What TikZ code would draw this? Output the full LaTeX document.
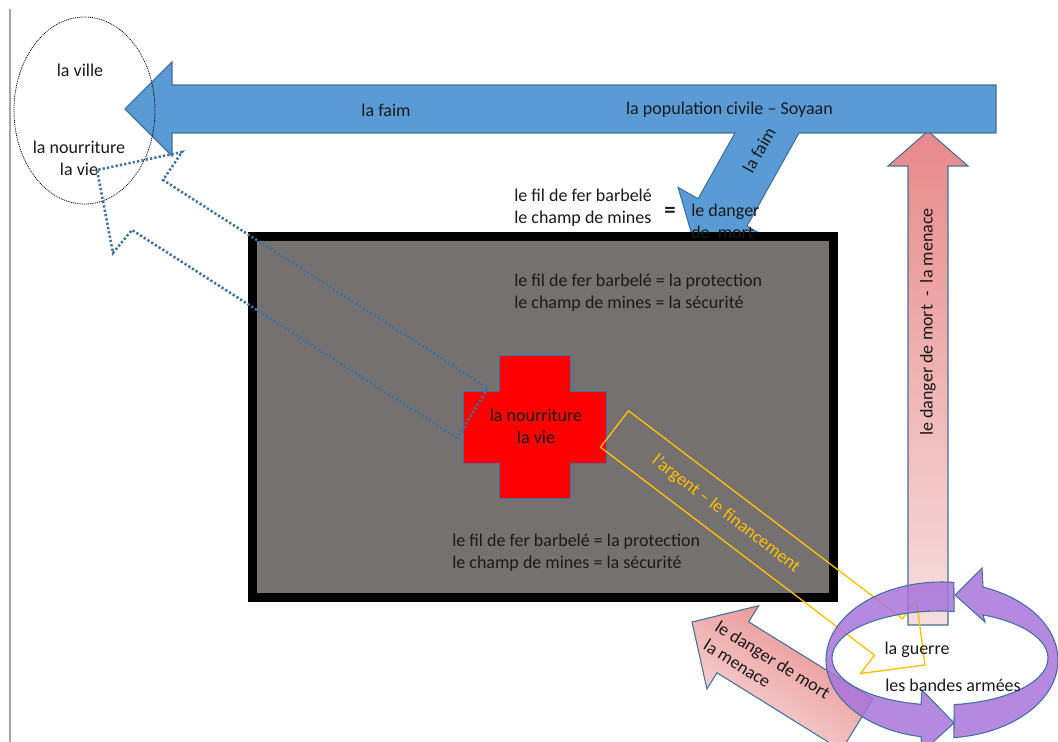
\documentclass[tikz,border=0pt]{standalone}
\usepackage{fontspec}
\setmainfont{Carlito}
\definecolor{accblue}{HTML}{5B9BD5}
\definecolor{edgeblue}{HTML}{41719C}
\definecolor{panelgray}{HTML}{767171}
\definecolor{gold}{HTML}{FFC000}
\definecolor{pinkdark}{HTML}{E8898A}
\definecolor{pinklight}{HTML}{F7DEDE}
\definecolor{ringpurple}{HTML}{A974DC}
\definecolor{txt}{HTML}{1A1A1A}
\begin{document}
\begin{tikzpicture}[x=0.75pt,y=-0.75pt,
  lbl/.style={inner sep=0pt, text=txt, font=\fontsize{13.5pt}{16.5pt}\selectfont},
  edged/.style={draw=edgeblue, line width=0.8pt},
  ringarrow/.style={draw=edgeblue, line width=0.8pt, fill=ringpurple, fill opacity=0.85},
  dottedarrow/.style={draw=edgeblue, line width=1.9pt, dash pattern=on 1.7pt off 1.6pt},
  goldarrow/.style={draw=gold, line width=1pt}]
\useasboundingbox (0,0) rectangle (1058,742);
\clip (0,0) rectangle (1058,742);

% left margin line
\draw[gray!70, line width=1.2pt] (10,9) -- (10,742);

% vertical pink arrow
\path[edged, top color=pinkdark, bottom color=pinklight]
  (908,625) -- (908,166) -- (888,166) -- (928,131) -- (968,166) -- (948,166) -- (948,625) -- cycle;

% big blue arrow with diagonal branch
\path[edged, fill=accblue]
  (996,85) -- (172,85) -- (172,62) -- (125,109) -- (172,156) -- (172,133)
  -- (735,133) -- (698.1,198.7) -- (678.1,187.4) -- (698,256) -- (766.9,237.4)
  -- (746.9,226.1) -- (799,133) -- (996,133) -- cycle;

% grey panel
\draw[fill=panelgray, line width=6.75pt] (252.5,236.5) rectangle (833,597.5);

% red cross
\draw[fill=red, draw=edgeblue, line width=0.6pt]
  (499,355) -- (570,355) -- (570,391) -- (606,391) -- (606,463) -- (570,463)
  -- (570,498) -- (499,498) -- (499,463) -- (463,463) -- (463,391) -- (499,391) -- cycle;

% dotted blue arrow
\draw[dottedarrow]
  (457,438) -- (132,230) -- (113,253) -- (97,170) -- (182,152) -- (163,180) -- (488,388) -- cycle;

% gold outline arrow
\draw[goldarrow]
  (628.5,410.8) -- (902.5,618.8) -- (916.5,600.5) -- (925,665) -- (860.5,673.5) -- (874.5,655.2) -- (600.5,447.2) -- cycle;

% pink diagonal arrow
\path[edged, left color=pinkdark, right color=pinklight, shading angle=-31.9]
  (692,622) -- (758.7,605.7) -- (748.6,621.8) -- (873,699) -- (841.4,750.2) -- (717,672.8) -- (706.9,688.9) -- cycle;

% circular arrows
\path[ringarrow]
  ([shift={(942,660)}]275.9:116 and 78) arc[start angle=275.9, end angle=100.4, x radius=116, y radius=78]
  -- (922,752) -- (954,723) -- (922,690)
  -- ([shift={(940,658)}]100.1:108 and 47) arc[start angle=100.1, end angle=277.5, x radius=108, y radius=47] -- cycle;
\path[ringarrow]
  ([shift={(942,660)}]84.1:116 and 78) arc[start angle=84.1, end angle=-69.3, x radius=116, y radius=78]
  -- (982,568) -- (955,595) -- (985,622)
  -- ([shift={(940,658)}]-66.5:108 and 47) arc[start angle=-66.5, end angle=82.5, x radius=108, y radius=47] -- cycle;

% dotted ellipse
\draw[black, line width=0.6pt, dash pattern=on 0.7pt off 0.7pt] (84.5,110.5) ellipse[x radius=70.5, y radius=93.5];

% texts
\node[lbl] (ville) at (80,70) {la ville};
\node[lbl, align=center] (nourville) at (79,158) {la nourriture\\la vie};
\node[lbl] (faim1) at (386,110) {la faim};
\node[lbl] (popul) at (729.5,110) {la population civile – Soyaan};
\node[lbl, rotate=60.6] (faim2) at (759,150) {la faim};
\node[lbl, anchor=west, align=left] (filtop) at (514,208) {le fil de fer barbelé\\le champ de mines};
\node[lbl, font=\fontsize{17pt}{20pt}\selectfont\bfseries] (egal) at (670,212) {=};
\node[lbl, anchor=west, align=left] (danger) at (691,221) {le danger\\de\ \ mort};
\node[lbl, anchor=west, align=left] (prot1) at (514,293) {le fil de fer barbelé = la protection\\le champ de mines = la sécurité};
\node[lbl, anchor=west, align=left] (prot2) at (452,553) {le fil de fer barbelé = la protection\\le champ de mines = la sécurité};
\node[lbl, align=center] (croix) at (536,426.5) {la nourriture\\la vie};
\node[lbl, text=gold, rotate=-37.5] (argent) at (726,514) {l’argent – le financement};
\node[lbl, rotate=90] (menace1) at (928,322) {le danger de mort\ \ -\ \ la menace};
\node[lbl, rotate=-31.9, align=left] (menace2) at (767,669) {le danger de mort\\la menace};
\node[lbl] (guerre) at (917,650) {la guerre};
\node[lbl] (bandes) at (953,685) {les bandes armées};
\end{tikzpicture}
\end{document}
